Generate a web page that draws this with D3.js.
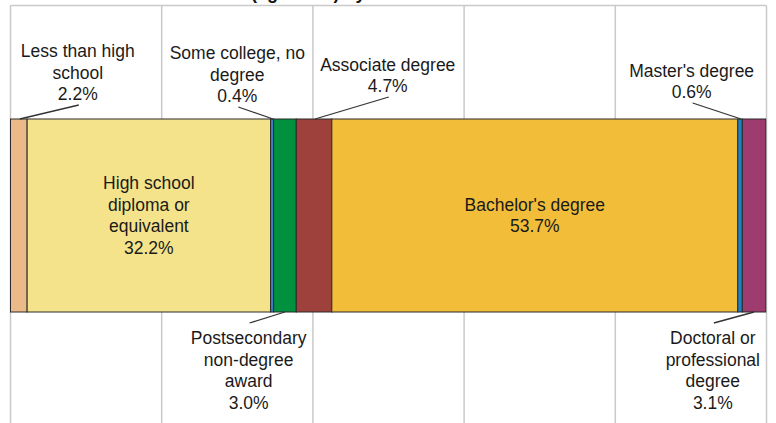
<!DOCTYPE html>
<html>
<head>
<meta charset="utf-8">
<script src="https://cdn.jsdelivr.net/npm/d3@7"></script>
<style>
  body { margin: 0; background: #fff; }
  svg { display: block; font-family: "Liberation Sans", Arial, sans-serif; }
</style>
</head>
<body>
<div id="chart"></div>
<script>
// data
var categories = [
	'Less than high school',
	'High school diploma or equivalent',
	'Some college, no degree',
	'Postsecondary non-degree award',
	'Associate degree',
	"Bachelor's degree",
	"Master's degree",
	'Doctoral or professional degree'
];
var values = [2.2, 32.2, 0.4, 3.0, 4.7, 53.7, 0.6, 3.1];
var grid_ticks = [0, 20, 40, 60, 80, 100];

// label text broken into lines
var label_lines = [
	['Less than high', 'school'],
	['High school', 'diploma or', 'equivalent'],
	['Some college, no', 'degree'],
	['Postsecondary', 'non-degree', 'award'],
	['Associate degree'],
	["Bachelor's degree"],
	["Master's degree"],
	['Doctoral or', 'professional', 'degree']
];

// styles / layout
var colors = ['#ebba88', '#f5e38b', '#3b7ec4', '#00913f', '#9e403c', '#f2be3a', '#1f80c4', '#9e3b6f'];
// where each label goes: inside the bar, above it, or below it (x centre in % units)
var label_place = [
	{ side: 'top', at: 8.9, last: 94 },
	{ side: 'in' },
	{ side: 'top', at: 30.0, last: 96 },
	{ side: 'bottom', at: 31.5, first: 338 },
	{ side: 'top', at: 49.9, last: 86 },
	{ side: 'in' },
	{ side: 'top', at: 90.1, last: 92 },
	{ side: 'bottom', at: 92.9, first: 338 }
];

var chart_width  = 776;
var chart_height = 423;
var plot_left    = 10.5;
var plot_right   = 766.5;
var plot_top     = 5.5;
var bar_top      = 119;
var bar_bottom   = 312;
var line_h       = 21.5;
var font_size    = 17.5;

var svg = d3.select('#chart')
	.append('svg')
	.attr('width', chart_width)
	.attr('height', chart_height);

var x_scale = d3.scaleLinear()
	.domain([0, 100])
	.range([plot_left, plot_right]);

// title sits above the crop, only the descenders show
svg.append('text')
	.attr('x', 251)
	.attr('y', -1.5)
	.attr('font-size', 18)
	.attr('font-weight', 'bold')
	.attr('fill', '#111')
	.text('(ages 25+) by');

// grid
svg.selectAll('line.grid')
	.data(grid_ticks)
	.enter()
	.append('line')
	.attr('class', 'grid')
	.attr('x1', function(d){ return x_scale(d); })
	.attr('x2', function(d){ return x_scale(d); })
	.attr('y1', plot_top)
	.attr('y2', chart_height)
	.attr('stroke', '#c9c9c9')
	.attr('stroke-width', 1.5);

svg.append('line')
	.attr('x1', x_scale(0))
	.attr('x2', x_scale(100))
	.attr('y1', plot_top)
	.attr('y2', plot_top)
	.attr('stroke', '#c9c9c9')
	.attr('stroke-width', 1.5);

// stacked segments
var ends = Array.from(d3.cumsum(values));
var segs = values.map(function(v, i){
	return { name: categories[i], value: v, x0: ends[i] - v, x1: ends[i], i: i };
});

svg.selectAll('rect.seg')
	.data(segs)
	.enter()
	.append('rect')
	.attr('class', 'seg')
	.attr('x', function(d){ return x_scale(d.x0); })
	.attr('y', bar_top)
	.attr('width', function(d){ return x_scale(d.x1) - x_scale(d.x0); })
	.attr('height', bar_bottom - bar_top)
	.attr('fill', function(d){ return colors[d.i]; })
	.attr('stroke', '#2b2b2b')
	.attr('stroke-width', 1);

// labels
var fmt = d3.format('.1f');

segs.forEach(function(d){
	var place = label_place[d.i];
	var lines = label_lines[d.i].concat([fmt(d.value) + '%']);
	var mid = x_scale((d.x0 + d.x1) / 2);
	var cx, y0;

	if (place.side === 'in') {
		cx = mid;
		y0 = (bar_top + bar_bottom) / 2 - (lines.length - 1) * line_h / 2;
	} else if (place.side === 'top') {
		cx = x_scale(place.at);
		y0 = place.last - (lines.length - 1) * line_h;
		// callout
		svg.append('line')
			.attr('x1', cx + 1)
			.attr('y1', place.last + 11)
			.attr('x2', mid + 1)
			.attr('y2', bar_top)
			.attr('stroke', '#333')
			.attr('stroke-width', 1.3);
	} else {
		cx = x_scale(place.at);
		y0 = place.first;
		svg.append('line')
			.attr('x1', cx + 1)
			.attr('y1', place.first - 15)
			.attr('x2', mid)
			.attr('y2', bar_bottom)
			.attr('stroke', '#333')
			.attr('stroke-width', 1.3);
	}

	var t = svg.append('text')
		.attr('text-anchor', 'middle')
		.attr('font-size', font_size)
		.attr('fill', '#1a1a1a');

	t.selectAll('tspan')
		.data(lines)
		.enter()
		.append('tspan')
		.attr('x', cx)
		.attr('y', function(s, k){ return y0 + k * line_h; })
		.attr('dy', '0.35em')
		.text(function(s){ return s; });
});
</script>
</body>
</html>
